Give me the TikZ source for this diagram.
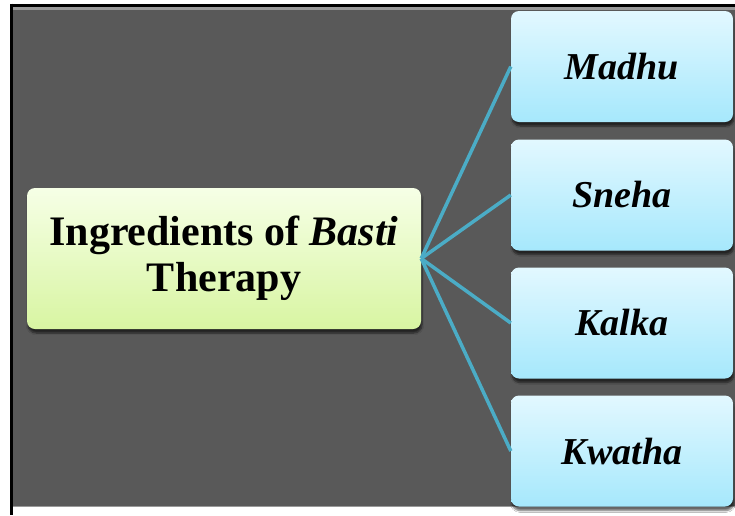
\documentclass[tikz,border=0pt]{standalone}
\usepackage{fontspec}
\setmainfont{Liberation Serif}
\usetikzlibrary{shadows.blur}
\definecolor{bggray}{HTML}{595959}
\definecolor{linkblue}{HTML}{4BACC6}
\definecolor{cyantop}{HTML}{E2F8FF}
\definecolor{cyanbot}{HTML}{A6E8FC}
\definecolor{greentop}{HTML}{F6FFE6}
\definecolor{greenbot}{HTML}{D8F5A2}
\tikzset{
  itembox/.style={draw=none, rounded corners=8pt, minimum width=222pt, minimum height=111pt,
    top color=cyantop, bottom color=cyanbot, inner sep=0pt,
    blur shadow={shadow xshift=1pt, shadow yshift=-4pt, shadow blur steps=6, shadow opacity=60},
    font=\fontsize{38}{40}\selectfont\bfseries\itshape},
  mainbox/.style={draw=none, rounded corners=8pt, minimum width=394pt, minimum height=141pt,
    top color=greentop, bottom color=greenbot, inner sep=0pt, align=center,
    blur shadow={shadow xshift=1pt, shadow yshift=-4pt, shadow blur steps=6, shadow opacity=60},
    font=\fontsize{42}{46}\selectfont\bfseries},
  link/.style={linkblue, line width=3.5pt}
}
\begin{document}
\begin{tikzpicture}[x=1pt,y=-1pt]
\useasboundingbox (0,0) rectangle (735,515);
\fill[white] (0,0) rectangle (735,515);
\fill[bggray] (12,7) rectangle (735,507);
\fill[gray!80] (12,7) rectangle (735,9.5);
\fill[gray!80] (12,506) rectangle (735,507);
\draw[black, line width=3pt] (11,5) -- (735,5);
\draw[black, line width=3pt] (11,3.5) -- (11,515);
\node[mainbox] (main) at (224,258.5) {Ingredients of \textit{Basti}\\Therapy};
\node[itembox] (madhu) at (622,66.5) {Madhu};
\node[itembox] (sneha) at (622,195) {Sneha};
\node[itembox] (kalka) at (622,323) {Kalka};
\node[itembox] (kwatha) at (622,451) {Kwatha};
\draw[link] (main.east) -- (madhu.west);
\draw[link] (main.east) -- (sneha.west);
\draw[link] (main.east) -- (kalka.west);
\draw[link] (main.east) -- (kwatha.west);
\end{tikzpicture}
\end{document}
